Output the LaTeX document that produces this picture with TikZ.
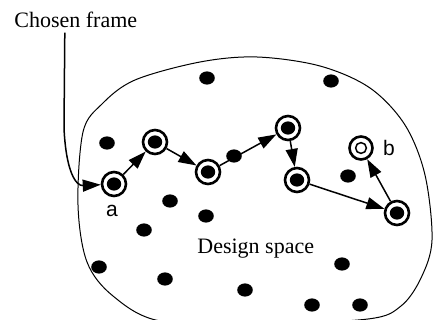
\documentclass[tikz,border=0pt]{standalone}
\usepackage{fontspec}
\setmainfont{Liberation Serif}
\newfontfamily\labelfont{Liberation Sans}
\usetikzlibrary{positioning,arrows.meta,shapes.geometric}
\tikzset{
  frame/.style={circle,draw=black,line width=1.3pt,minimum size=12pt,inner sep=0pt,fill=white,
    path picture={\fill[black] (path picture bounding box.center) ellipse (3.6pt and 3.3pt);}},
  goalframe/.style={circle,draw=black,line width=1.3pt,minimum size=11.5pt,inner sep=0pt,fill=white,
    path picture={\draw[black,line width=0.75pt] (path picture bounding box.center) circle (2.7pt);}},
  design/.style={ellipse,fill=black,minimum width=7.8pt,minimum height=6.6pt,inner sep=0pt},
  caption/.style={font=\fontsize{11}{13}\selectfont,inner sep=2pt},
  tag/.style={font=\labelfont\fontsize{10.5}{12}\selectfont,inner sep=0pt},
  edge/.style={-{Triangle[length=9pt,width=6pt]},line width=0.75pt},
  outline/.style={draw=black,line width=0.5pt}
}
\begin{document}
\begin{tikzpicture}[x=0.5pt,y=-0.5pt]
  \useasboundingbox (0,0) rectangle (433,320);
  \clip (0,0) rectangle (433,320);
  % design space boundary
  \draw[outline] plot[smooth cycle,tension=0.55] coordinates {
    (83,132) (102,104) (135,80) (200,62) (257,57) (320,66) (370,88) (405,125)
    (425,175) (432,240) (421,278) (401,306) (368,319) (258,324) (160,321)
    (113,296) (87,262) (78,205)};
  % scattered designs
  \node[design] (d1) at (207,78) {};
  \node[design] (d2) at (331,81) {};
  \node[design] (d3) at (107,143) {};
  \node[design] (d4) at (234,156) {};
  \node[design] (d5) at (348,176) {};
  \node[design] (d6) at (170,201) {};
  \node[design] (d7) at (206,216) {};
  \node[design] (d8) at (144,230) {};
  \node[design] (d9) at (99,267) {};
  \node[design] (d10) at (165,279) {};
  \node[design] (d11) at (245,290) {};
  \node[design] (d12) at (342,264) {};
  \node[design] (d13) at (312,305) {};
  \node[design] (d14) at (360,305) {};
  % frames along the walk
  \node[frame] (a) at (114,184) {};
  \node[frame] (f2) at (155,142) {};
  \node[frame] (f3) at (208,172) {};
  \node[frame] (f4) at (288,128) {};
  \node[frame] (f5) at (297,180) {};
  \node[frame] (f6) at (397,213) {};
  \node[goalframe] (b) at (361,148) {};
  \node[tag] (alabel) at (112,211) {a};
  \node[tag] (blabel) at (389,148) {b};
  \node[caption,anchor=base west] (chosen) at (10,28) {Chosen frame};
  \node[caption,anchor=base west] (space) at (193,253) {Design space};
  \coordinate (knee) at (64,128);
  \draw[edge] ([xshift=-5.5pt]chosen.south) -- (knee) .. controls (66,172) and (76,186) .. (a);
  \draw[edge] (a) -- (f2);
  \draw[edge] (f2) -- (f3);
  \draw[edge] (f3) -- (f4);
  \draw[edge] (f4) -- (f5);
  \draw[edge] (f5) -- (f6);
  \draw[edge] (f6) -- (b);
\end{tikzpicture}
\end{document}
